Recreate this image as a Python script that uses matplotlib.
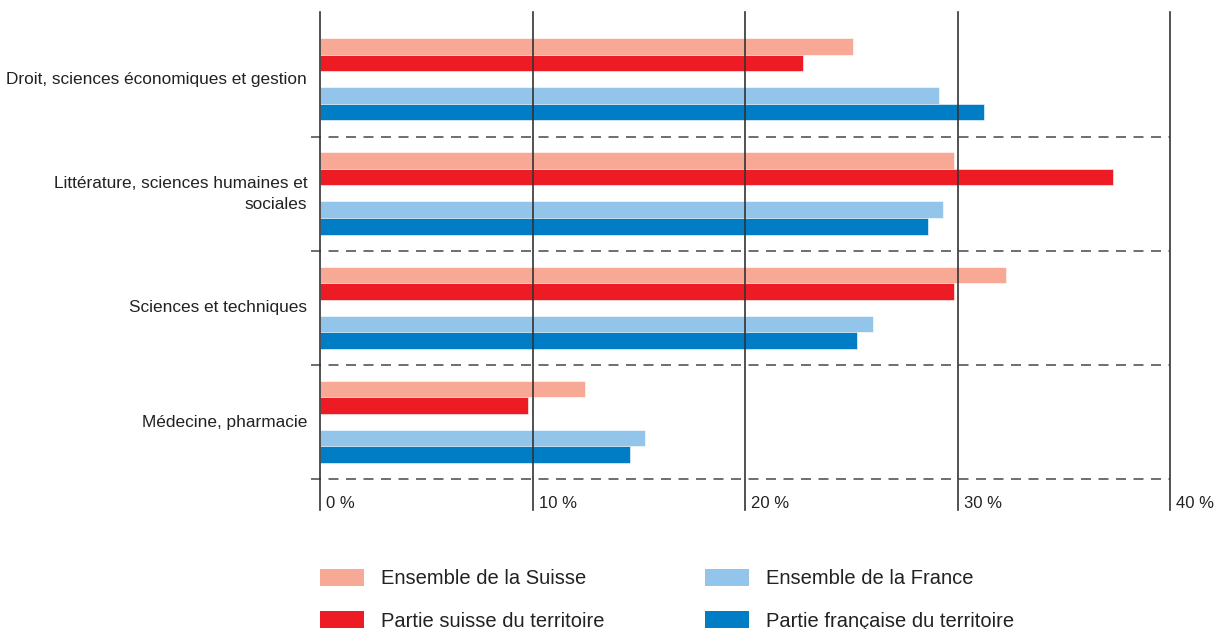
import matplotlib
matplotlib.use("Agg")
import matplotlib.pyplot as plt
from matplotlib.patches import Patch
import numpy as np

plt.rcParams['font.family'] = ['Liberation Sans', 'DejaVu Sans']

categories = ["Droit, sciences économiques et gestion",
              "Littérature, sciences humaines et\nsociales",
              "Sciences et techniques",
              "Médecine, pharmacie"]
series_names = ["Ensemble de la Suisse", "Partie suisse du territoire",
                "Ensemble de la France", "Partie française du territoire"]
ensemble_suisse = [25.1, 29.85, 32.3, 12.45]
partie_suisse = [22.75, 37.3, 29.85, 9.8]
ensemble_france = [29.15, 29.3, 26.0, 15.3]
partie_france = [31.25, 28.6, 25.25, 14.6]
xticks = [0, 10, 20, 30, 40]
xtick_labels = ["0 %", "10 %", "20 %", "30 %", "40 %"]

colors = ["#F8A996", "#ED1C24", "#93C5EA", "#007DC5"]
offsets = [-0.29, -0.145, 0.14, 0.285]
height = 0.145

W, H = 1217, 629
fig = plt.figure(figsize=(W / 100, H / 100), dpi=100)
ax = fig.add_axes([320 / W, 1 - 510 / H, (1170 - 320) / W, (510 - 12) / H])

y = np.arange(len(categories))
for vals, col, off in zip([ensemble_suisse, partie_suisse, ensemble_france, partie_france],
                          colors, offsets):
    ax.barh(y + off, vals, height=height, color=col, edgecolor='white',
            linewidth=0.4, zorder=2)

ax.set_xlim(0, 40)
ax.set_ylim(3.77, -0.592)

for v in xticks:
    ax.axvline(v, color='#333333', lw=1.2, zorder=3, clip_on=False)

for b in np.arange(len(categories)) + 0.5:
    ax.plot([-0.42, 40], [b, b], color='#555555', lw=1.2, ls=(0, (6, 4.5)),
            zorder=1, clip_on=False)

for s in ax.spines.values():
    s.set_visible(False)
ax.set_xticks([])
ax.set_yticks([])

trans = ax.get_xaxis_transform()
for v, lab in zip(xticks, xtick_labels):
    ax.text(v + 0.3, 0.013, lab, transform=trans, ha='left', va='center',
            fontsize=12, color='#222222')

for yi, cat in zip(y, categories):
    ax.text(-0.6, yi, cat, ha='right', va='center', fontsize=12.4,
            color='#222222', multialignment='right', linespacing=1.5)

handles = [Patch(facecolor=c, edgecolor='none') for c in colors]
leg = fig.legend(handles, series_names,
                 loc='upper left', bbox_to_anchor=(320 / W, 1 - 569 / H),
                 ncol=2, frameon=False, fontsize=14.5,
                 handlelength=2.2, handleheight=0.9, handletextpad=0.85,
                 columnspacing=4.95, labelspacing=1.15, borderpad=0,
                 borderaxespad=0)
for t in leg.get_texts():
    t.set_color('#222222')

fig.savefig("out.png", dpi=100)
